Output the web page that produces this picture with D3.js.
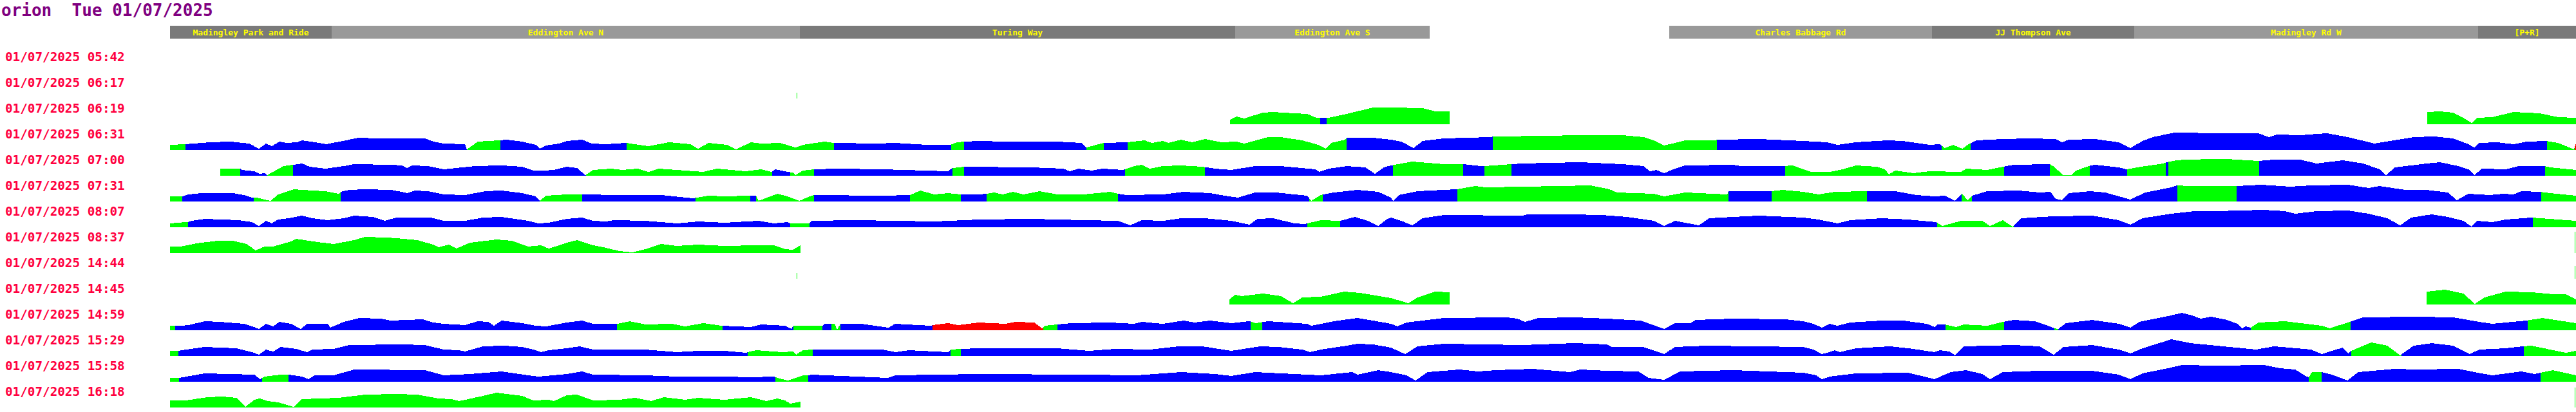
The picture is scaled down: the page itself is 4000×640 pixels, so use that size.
<!DOCTYPE html>
<html><head><meta charset="utf-8">
<script src="https://cdn.jsdelivr.net/npm/d3@7"></script>
<style>body{margin:0;background:#fff}svg{display:block}</style>
</head><body><svg id="c" width="4000" height="640"></svg>
<script>
// ---------- data ----------
const title = "orion  Tue 01/07/2025";
const tripLabels = ["01/07/2025 05:42","01/07/2025 06:17","01/07/2025 06:19","01/07/2025 06:31","01/07/2025 07:00","01/07/2025 07:31","01/07/2025 08:07","01/07/2025 08:37","01/07/2025 14:44","01/07/2025 14:45","01/07/2025 14:59","01/07/2025 15:29","01/07/2025 15:58","01/07/2025 16:18"];
const roadNames = ["Madingley Park and Ride","Eddington Ave N","Turing Way","Eddington Ave S","","Charles Babbage Rd","JJ Thompson Ave","Madingley Rd W","[P+R]"];
const roadStarts = [0,502,1956,3308,3912,4656,5472,6100,7168]; // metres along route
const routeLength = 7472; // metres
// profiles: [metres along route, speed km/h]; segments: [start metres, status]
const p0542 = [];
const s0542 = [];
const p0617 = [[[1946,18],[1948,18]]];
const s0617 = [[0,"g"]];
const p0619 = [[[3292,14],[3312,24],[3336,18],[3394,36],[3426,38],[3492,34],[3532,32],[3560,20],[3572,20],[3592,20],[3598,20],[3654,32],[3736,52],[3792,52],[3890,50],[3930,40],[3974,40]],
  [[7010,38],[7050,40],[7090,36],[7122,20],[7148,4],[7164,20],[7212,22],[7278,38],[7360,34],[7416,22],[7472,20]]];
const s0619 = [[0,"g"],[3572,"b"],[3592,"g"]];
const p0631 = [[[0,16],[48,18],[124,24],[188,26],[246,20],[276,4],[298,20],[316,12],[340,26],[360,22],[396,24],[410,30],[450,24],[486,18],[516,24],[556,32],[584,38],[646,36],[728,36],[792,36],[818,26],[850,20],[916,18],[922,2],[956,26],[1022,30],[1046,32],[1094,26],[1136,16],[1148,4],[1168,14],[1208,20],[1232,28],[1280,32],[1310,20],[1354,18],[1416,22],[1486,12],[1550,24],[1616,18],[1640,4],[1672,22],[1730,16],[1758,2],[1804,24],[1836,20],[1894,22],[1942,8],[1966,16],[2032,26],[2062,22],[2196,20],[2252,22],[2350,16],[2424,16],[2444,24],[2466,26],[2512,28],[2594,26],[2756,26],[2830,22],[2846,8],[2900,22],[2974,24],[3026,30],[3050,22],[3084,28],[3100,22],[3140,32],[3174,24],[3214,34],[3264,24],[3312,26],[3336,20],[3410,40],[3450,40],[3516,30],[3566,16],[3590,4],[3606,22],[3650,32],[3654,38],[3736,38],[3792,32],[3824,26],[3862,6],[3890,28],[3956,36],[4102,40],[4108,42],[4282,44],[4364,46],[4510,46],[4576,40],[4608,30],[4640,14],[4674,22],[4706,30],[4800,30],[4804,32],[4934,34],[5072,28],[5146,24],[5178,16],[5236,24],[5334,30],[5382,28],[5464,16],[5496,18],[5512,6],[5538,16],[5566,4],[5586,18],[5610,30],[5692,34],[5774,36],[5856,34],[5876,24],[5896,32],[5978,34],[6052,24],[6088,6],[6126,28],[6158,40],[6224,54],[6372,52],[6486,52],[6518,40],[6544,48],[6616,46],[6698,52],[6764,40],[6846,20],[6870,24],[6968,40],[7032,42],[7090,36],[7138,18],[7156,8],[7172,22],[7228,24],[7278,18],[7318,26],[7380,28],[7416,22],[7466,2],[7472,22]]];
const s0631 = [[0,"g"],[48,"b"],[922,"g"],[1026,"b"],[1418,"g"],[2062,"b"],[2426,"g"],[2466,"b"],[2846,"g"],[2900,"b"],[2974,"g"],[3654,"b"],[4108,"g"],[4804,"b"],[5502,"g"],[5592,"b"],[7382,"g"],[7468,"r"]];
const p0700 = [[[156,22],[218,22],[222,18],[262,14],[278,6],[294,8],[302,2],[320,12],[352,30],[382,34],[410,38],[434,28],[482,22],[540,30],[572,36],[686,34],[720,32],[736,24],[752,32],[800,30],[850,20],[948,30],[1030,32],[1094,28],[1128,16],[1160,16],[1192,18],[1232,28],[1264,24],[1290,2],[1314,18],[1370,22],[1404,18],[1452,22],[1486,12],[1518,22],[1574,18],[1656,12],[1698,22],[1788,14],[1836,20],[1868,12],[1880,20],[1918,12],[1934,10],[1942,2],[1966,16],[2000,20],[2072,22],[2212,20],[2416,14],[2430,24],[2466,28],[2676,26],[2774,22],[2794,14],[2822,22],[2862,16],[2896,22],[2960,18],[2994,30],[3018,34],[3042,22],[3084,30],[3140,32],[3206,28],[3246,22],[3296,18],[3370,30],[3450,30],[3556,20],[3570,12],[3598,22],[3654,30],[3712,26],[3742,6],[3770,26],[3792,32],[3858,44],[3956,36],[4016,36],[4072,30],[4082,30],[4166,36],[4200,38],[4282,40],[4380,42],[4510,36],[4576,30],[4596,14],[4616,18],[4640,8],[4674,22],[4706,32],[4854,34],[4878,30],[5008,30],[5040,32],[5072,20],[5096,12],[5154,12],[5194,20],[5236,32],[5300,28],[5326,20],[5338,4],[5358,16],[5414,8],[5464,14],[5562,12],[5578,22],[5644,18],[5692,28],[5726,34],[5838,36],[5848,30],[5880,2],[5904,2],[5920,16],[5958,30],[5978,34],[6052,26],[6076,20],[6134,30],[6190,38],[6202,42],[6232,48],[6258,50],[6352,52],[6388,52],[6486,46],[6534,50],[6616,50],[6666,38],[6748,48],[6812,38],[6862,20],[6882,2],[6910,26],[7008,38],[7050,42],[7106,30],[7138,20],[7156,2],[7180,22],[7254,20],[7294,30],[7374,30],[7392,26],[7472,18]]];
const s0700 = [[156,"g"],[218,"b"],[302,"g"],[382,"b"],[1292,"g"],[1870,"b"],[1926,"g"],[2000,"b"],[2430,"g"],[2466,"b"],[2966,"g"],[3214,"b"],[3798,"g"],[4016,"b"],[4082,"g"],[4166,"b"],[5016,"g"],[5696,"b"],[5838,"g"],[5962,"b"],[6078,"g"],[6198,"b"],[6206,"g"],[6488,"b"],[7376,"g"]];
const p0731 = [[[0,16],[38,16],[58,22],[98,26],[196,26],[230,20],[254,12],[270,12],[294,6],[312,2],[336,22],[384,38],[442,34],[482,32],[524,24],[530,30],[556,36],[606,38],[686,36],[720,30],[736,26],[760,34],[800,32],[850,22],[916,20],[980,32],[1030,34],[1094,26],[1136,16],[1148,2],[1168,18],[1232,22],[1280,22],[1396,20],[1526,20],[1624,10],[1672,18],[1722,16],[1796,18],[1820,18],[1828,2],[1886,24],[1918,16],[1954,2],[1992,18],[2000,20],[2212,18],[2298,20],[2330,34],[2374,22],[2416,26],[2456,22],[2512,22],[2536,24],[2560,28],[2586,22],[2618,30],[2650,22],[2700,32],[2756,22],[2838,22],[2920,30],[2944,24],[2970,20],[3084,22],[3148,30],[3230,26],[3288,16],[3316,12],[3370,28],[3434,28],[3532,18],[3544,2],[3574,20],[3614,28],[3688,36],[3752,30],[3792,12],[3798,2],[3816,20],[3874,32],[3996,38],[4054,48],[4086,44],[4314,48],[4412,50],[4470,38],[4494,28],[4608,24],[4640,16],[4706,28],[4836,22],[4840,32],[4974,32],[5008,36],[5072,30],[5120,22],[5170,30],[5268,32],[5358,32],[5424,20],[5480,16],[5512,18],[5544,2],[5562,22],[5566,24],[5582,4],[5596,18],[5644,32],[5742,34],[5806,28],[5840,30],[5856,8],[5876,4],[5896,26],[5962,32],[6010,28],[6088,6],[6134,28],[6214,44],[6232,50],[6272,48],[6418,48],[6494,52],[6584,46],[6650,50],[6764,52],[6828,42],[6862,48],[6942,36],[7008,36],[7074,28],[7102,4],[7138,24],[7204,20],[7246,24],[7278,22],[7302,32],[7360,30],[7392,26],[7472,18]]];
const s0731 = [[0,"g"],[38,"b"],[260,"g"],[530,"b"],[1148,"g"],[1280,"b"],[1632,"g"],[1802,"b"],[1820,"g"],[2000,"b"],[2298,"g"],[2456,"b"],[2536,"g"],[2944,"b"],[3538,"g"],[3580,"b"],[3998,"g"],[4840,"b"],[4974,"g"],[5270,"b"],[5564,"g"],[5596,"b"],[6234,"g"],[6418,"b"],[7364,"g"]];
const p0807 = [[[0,12],[48,16],[56,16],[66,20],[108,26],[214,22],[254,16],[276,4],[298,20],[316,12],[336,24],[368,28],[410,36],[442,28],[490,22],[540,28],[572,36],[630,32],[666,20],[704,30],[810,30],[850,20],[916,20],[972,30],[1030,32],[1112,20],[1144,12],[1176,14],[1232,26],[1280,30],[1314,20],[1354,18],[1378,22],[1476,20],[1574,12],[1640,18],[1722,14],[1828,20],[1876,12],[1918,16],[1926,12],[1986,12],[1992,20],[2130,22],[2252,20],[2374,18],[2512,24],[2676,26],[2838,22],[2944,20],[2982,6],[3018,22],[3084,20],[3140,28],[3214,28],[3296,20],[3352,8],[3378,26],[3426,28],[3492,12],[3524,10],[3574,22],[3634,20],[3680,32],[3720,20],[3752,4],[3778,24],[3792,30],[3824,20],[3858,6],[3890,28],[3956,38],[4200,36],[4216,40],[4348,40],[4446,38],[4526,32],[4608,20],[4640,4],[4674,20],[4748,6],[4780,28],[4854,32],[4934,36],[5072,30],[5120,24],[5178,12],[5218,22],[5316,28],[5398,24],[5484,16],[5504,4],[5562,20],[5628,20],[5652,4],[5692,22],[5722,2],[5750,28],[5848,34],[5970,36],[6052,22],[6088,8],[6126,28],[6214,42],[6288,50],[6356,50],[6502,54],[6568,50],[6600,42],[6666,50],[6764,52],[6828,42],[6886,28],[6926,6],[6960,30],[7024,40],[7074,32],[7122,20],[7148,2],[7164,20],[7212,16],[7254,24],[7334,30],[7472,20]]];
const s0807 = [[0,"g"],[56,"b"],[1926,"g"],[1986,"b"],[3532,"g"],[3634,"b"],[5488,"g"],[5726,"b"],[7338,"g"]];
const p0837 = [[[0,20],[34,20],[82,30],[148,38],[196,38],[238,28],[266,8],[294,20],[320,20],[376,36],[392,44],[458,34],[508,28],[572,40],[606,50],[670,48],[704,46],[768,40],[818,26],[834,18],[866,26],[890,14],[932,32],[1014,42],[1062,38],[1112,20],[1152,24],[1176,14],[1210,24],[1232,32],[1264,40],[1306,26],[1354,16],[1396,6],[1436,2],[1476,12],[1526,28],[1574,22],[1640,26],[1722,22],[1820,24],[1876,24],[1910,12],[1934,10],[1958,24]],
  [[7468,66],[7470,66]]];
const s0837 = [[0,"g"]];
const p1444 = [[[1946,18],[1948,18]],[[7468,40],[7470,40]]];
const s1444 = [[0,"g"]];
const p1445 = [[[3290,16],[3308,30],[3328,26],[3394,34],[3450,26],[3488,4],[3516,22],[3574,24],[3646,40],[3696,36],[3792,20],[3846,4],[3874,22],[3930,40],[3974,38]],
  [[7008,40],[7066,46],[7122,34],[7158,2],[7188,22],[7254,40],[7334,38],[7400,32],[7440,32],[7472,16]]];
const s1445 = [[0,"g"]];
const p1459 = [[[0,14],[16,14],[34,14],[58,16],[108,28],[156,26],[230,20],[262,10],[276,4],[298,20],[320,12],[340,26],[376,20],[406,4],[426,20],[490,20],[498,8],[540,26],[588,38],[654,36],[686,30],[784,34],[818,24],[850,20],[916,16],[956,28],[988,26],[1006,14],[1030,30],[1094,22],[1136,14],[1168,12],[1232,24],[1280,30],[1314,20],[1388,20],[1428,28],[1476,18],[1558,20],[1600,12],[1656,22],[1714,14],[1804,10],[1836,18],[1910,14],[1930,4],[1936,14],[2026,14],[2032,20],[2054,20],[2064,20],[2072,2],[2082,20],[2146,20],[2232,8],[2252,20],[2362,14],[2368,16],[2416,22],[2448,16],[2512,24],[2594,20],[2626,26],[2684,24],[2708,6],[2716,14],[2756,18],[2798,22],[2920,24],[2994,20],[3018,26],[3084,20],[3148,30],[3182,24],[3230,30],[3296,22],[3352,28],[3372,22],[3410,28],[3532,20],[3544,14],[3614,28],[3688,38],[3736,30],[3792,20],[3812,12],[3840,24],[3956,38],[4152,40],[4184,36],[4208,26],[4250,38],[4364,40],[4462,36],[4568,30],[4640,4],[4674,22],[4722,22],[4738,32],[4854,36],[5016,34],[5072,28],[5104,20],[5130,8],[5154,20],[5178,14],[5218,24],[5316,30],[5382,30],[5456,20],[5480,10],[5488,18],[5512,18],[5546,10],[5570,18],[5644,14],[5692,26],[5726,32],[5790,28],[5832,14],[5852,6],[5864,4],[5888,22],[5970,32],[6052,20],[6088,8],[6116,26],[6214,46],[6248,54],[6280,46],[6306,36],[6338,42],[6388,32],[6420,20],[6436,6],[6446,12],[6462,8],[6486,24],[6568,28],[6682,14],[6706,6],[6764,24],[6812,40],[6976,42],[7090,40],[7172,26],[7212,20],[7318,30],[7368,38],[7472,22]]];
const s1459 = [[0,"g"],[16,"b"],[1388,"g"],[1716,"b"],[1936,"g"],[2026,"b"],[2054,"g"],[2082,"b"],[2368,"r"],[2712,"g"],[2756,"b"],[3356,"g"],[3392,"b"],[5514,"g"],[5696,"b"],[5852,"g"],[5864,"b"],[6462,"g"],[6772,"b"],[7322,"g"]];
const p1529 = [[[0,16],[26,16],[50,20],[108,28],[206,24],[262,10],[276,4],[298,20],[320,14],[344,28],[392,22],[426,12],[442,20],[508,22],[556,34],[720,36],[792,34],[850,20],[898,18],[916,14],[972,30],[1038,32],[1094,28],[1128,20],[1152,12],[1176,18],[1232,24],[1272,30],[1314,20],[1396,20],[1476,20],[1574,12],[1640,16],[1722,16],[1788,10],[1794,12],[1820,18],[1902,12],[1934,14],[1944,4],[1966,18],[1996,20],[2212,20],[2252,12],[2294,18],[2416,12],[2424,20],[2456,22],[2512,24],[2756,24],[2854,16],[2936,22],[3042,20],[3132,30],[3206,30],[3296,16],[3386,30],[3442,28],[3516,20],[3540,12],[3574,20],[3654,32],[3688,38],[3736,36],[3792,26],[3836,6],[3874,30],[3956,38],[4200,34],[4364,40],[4462,36],[4478,28],[4576,28],[4640,6],[4674,28],[4772,32],[5072,28],[5104,20],[5130,6],[5154,12],[5170,18],[5186,12],[5236,24],[5342,30],[5414,22],[5480,12],[5496,18],[5526,14],[5544,2],[5570,30],[5726,34],[5806,30],[5850,4],[5880,28],[5970,34],[6052,20],[6088,8],[6126,24],[6216,52],[6274,40],[6356,32],[6478,20],[6534,30],[6650,20],[6682,6],[6714,16],[6748,26],[6764,8],[6774,16],[6836,42],[6886,32],[6926,2],[6968,32],[7024,40],[7090,32],[7142,6],[7172,20],[7254,24],[7306,30],[7334,32],[7440,10],[7472,16]]];
const s1529 = [[0,"g"],[26,"b"],[1794,"g"],[1996,"b"],[2424,"g"],[2456,"b"],[6774,"g"],[6930,"b"],[7310,"g"]];
const p1558 = [[[0,12],[28,12],[74,20],[108,26],[262,22],[280,8],[286,12],[294,16],[344,22],[368,22],[410,16],[430,8],[450,20],[508,20],[572,38],[792,36],[850,20],[932,24],[1030,32],[1112,20],[1144,16],[1232,24],[1280,32],[1314,22],[1476,20],[1574,16],[1722,16],[1804,14],[1876,16],[1880,14],[1902,8],[1918,4],[1966,20],[1982,20],[1992,22],[2228,12],[2252,20],[2512,24],[2838,22],[3002,20],[3140,30],[3246,24],[3296,18],[3370,30],[3492,24],[3574,20],[3672,30],[3688,22],[3752,36],[3792,30],[3840,20],[3868,4],[3906,30],[4004,38],[4062,32],[4118,36],[4232,40],[4348,30],[4380,38],[4462,34],[4560,32],[4592,12],[4640,6],[4690,32],[4854,36],[5072,28],[5112,20],[5130,8],[5154,16],[5236,26],[5398,28],[5464,12],[5480,8],[5530,30],[5578,36],[5628,24],[5652,8],[5692,30],[5806,34],[5970,34],[6052,22],[6088,8],[6126,26],[6214,44],[6248,52],[6356,50],[6502,52],[6552,42],[6600,38],[6632,18],[6642,14],[6652,30],[6682,30],[6714,22],[6762,4],[6796,30],[6910,40],[6976,38],[7106,40],[7156,30],[7212,20],[7302,32],[7342,24],[7362,28],[7400,36],[7472,20]]];
const s1558 = [[0,"g"],[28,"b"],[286,"g"],[368,"b"],[1880,"g"],[1982,"b"],[6642,"g"],[6682,"b"],[7362,"g"]];
const p1618 = [[[0,22],[50,22],[116,32],[164,34],[206,30],[234,2],[262,24],[278,28],[304,20],[336,16],[384,2],[410,26],[524,30],[606,40],[704,42],[768,40],[834,28],[874,26],[898,20],[972,36],[1014,46],[1094,36],[1128,22],[1176,24],[1192,20],[1232,38],[1264,40],[1314,22],[1396,24],[1444,30],[1494,20],[1534,32],[1600,24],[1640,30],[1722,24],[1804,32],[1852,20],[1886,28],[1910,22],[1926,12],[1958,18]],
  [[7468,62],[7470,62]]];
const s1618 = [[0,"g"]];

const tripPoints = [p0542,p0617,p0619,p0631,p0700,p0731,p0807,p0837,p1444,p1445,p1459,p1529,p1558,p1618];
const tripSegs   = [s0542,s0617,s0619,s0631,s0700,s0731,s0807,s0837,s1444,s1445,s1459,s1529,s1558,s1618];

// ---------- drawing ----------
const svg = d3.select("#c");
const defs = svg.append("defs");
const x = d3.scaleLinear().domain([0, routeLength]).range([264, 4000]);
const h = d3.scaleLinear().domain([0, 60]).range([0, 30]);
const band = d3.scaleBand().domain(tripLabels).range([80, 640]);
const colour = d3.scaleOrdinal().domain(["g","b","r"]).range(["#00ff00","#0000ff","#ff0000"]);
const roadFill = i => i % 2 === 0 ? "#7a7a7a" : "#999999";

svg.append("text").attr("x", 2).attr("y", 25)
  .attr("font-family", "'DejaVu Sans Mono', monospace").attr("font-weight", "bold")
  .attr("font-size", 26).attr("fill", "#800080")
  .style("white-space", "pre").attr("xml:space", "preserve").text(title);

const road = svg.append("g");
roadNames.forEach((name, i) => {
  if (!name) return;
  const s = roadStarts[i], e = i + 1 < roadStarts.length ? roadStarts[i + 1] : routeLength;
  road.append("rect").attr("x", x(s)).attr("y", 40).attr("width", x(e) - x(s)).attr("height", 20)
    .attr("fill", roadFill(i)).attr("shape-rendering", "crispEdges");
  road.append("text").attr("x", (x(s) + x(e)) / 2).attr("y", 55).attr("text-anchor", "middle")
    .attr("font-family", "'DejaVu Sans Mono', monospace").attr("font-weight", "bold").attr("font-size", 13)
    .attr("fill", "#ffff00").text(name);
});

tripLabels.forEach((label, i) => {
  const top = band(label);
  const base = top + 33;
  const g = svg.append("g");
  g.append("text").attr("x", 8).attr("y", top + 15)
    .attr("font-family", "'DejaVu Sans Mono', monospace").attr("font-weight", "bold")
    .attr("font-size", 19.3).attr("fill", "#ff0040").text(label);
  const area = d3.area().x(d => x(d[0])).y0(base).y1(d => base - h(d[1]));
  const segs = tripSegs[i];
  segs.forEach((sg, k) => {
    const s = sg[0], e = k + 1 < segs.length ? segs[k + 1][0] : routeLength;
    const id = `clip${i}_${k}`;
    defs.append("clipPath").attr("id", id).append("rect")
      .attr("x", x(s)).attr("y", base - 40).attr("width", x(e) - x(s)).attr("height", 41);
    tripPoints[i].forEach(p => {
      g.append("path").attr("d", area(p)).attr("fill", colour(sg[1]))
        .attr("shape-rendering", "crispEdges").attr("clip-path", `url(#${id})`);
    });
  });
});
</script>
</body></html>
